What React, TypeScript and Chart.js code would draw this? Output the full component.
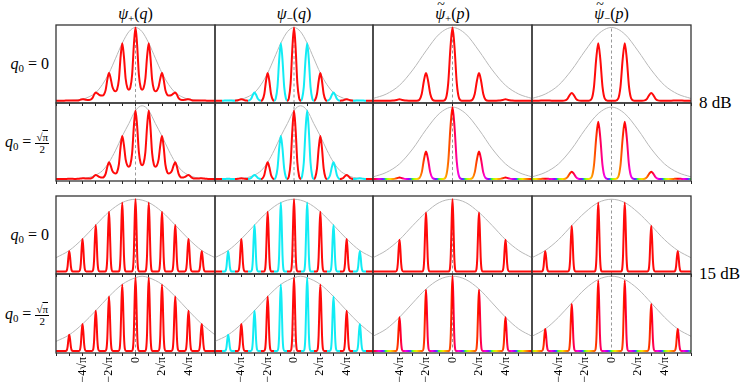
import React, { useEffect, useRef } from 'react';
import { Chart, registerables } from 'chart.js';

Chart.register(...registerables);

// ---------------- axis ----------------
const X_MIN = -6;
const X_MAX = 6;
const TICK_VALUES = [-4, -2, 0, 2, 4];
const TICK_LABELS = ['−4√π', '−2√π', '0', '2√π', '4√π'];
const BLOCK_LABELS = ['8 dB', '15 dB'];

// ---------------- peak positions (units of √π) ----------------
const POS_N = [-5, -4, -3, -2, -1, 0, 1, 2, 3, 4, 5];
const POS_TROUGH_X = [-5.5, -4.5, -3.5, -2.5, -1.5, -0.5, 0.5, 1.5, 2.5, 3.5, 4.5, 5.5];
const MOM_EVEN_N = [-4, -2, 0, 2, 4];
const MOM_ODD_N = [-5, -3, -1, 1, 3, 5];

// ---------------- 8 dB ----------------
const POS_8DB_Q0_PEAKS = [0.003, 0.02, 0.11, 0.377, 0.786, 1, 0.786, 0.377, 0.11, 0.02, 0.003];
const POS_8DB_Q0_TROUGHS = [0, 0.002, 0.01, 0.07, 0.13, 0.15, 0.15, 0.13, 0.07, 0.01, 0.002, 0];
const POS_8DB_HALF_PEAKS = [0.002, 0.01, 0.058, 0.243, 0.626, 1, 1, 0.626, 0.243, 0.058, 0.01];
const POS_8DB_HALF_TROUGHS = [0, 0.001, 0.005, 0.02, 0.08, 0.18, 0.2, 0.18, 0.08, 0.02, 0.005, 0.001];
const SIGN_CHANGE_TROUGHS = [0, 0, 0, 0, 0, 0, 0, 0, 0, 0, 0, 0];
const MOM_8DB_Q0_EVEN = [0.018, 0.377, 1, 0.377, 0.018];
const MOM_8DB_Q0_ODD = [0.003, 0.105, 0.786, 0.786, 0.105, 0.003];
const MOM_8DB_HALF_EVEN = [0.02, 0.4, 1.05, 0.4, 0.02];
const MOM_8DB_HALF_ODD = [0.003, 0.107, 0.835, 0.835, 0.107, 0.003];

// ---------------- 15 dB ----------------
const POS_15DB_Q0_PEAKS = [0.28, 0.45, 0.642, 0.826, 0.954, 1, 0.954, 0.826, 0.642, 0.45, 0.28];
const POS_15DB_HALF_PEAKS = [0.22, 0.367, 0.55, 0.743, 0.908, 1, 1, 0.908, 0.743, 0.55, 0.367];
const MOM_15DB_Q0_EVEN = [0.44, 0.817, 1, 0.817, 0.44];
const MOM_15DB_Q0_ODD = [0.28, 0.633, 0.954, 0.954, 0.633, 0.28];
const MOM_15DB_HALF_EVEN = [0.46, 0.835, 1.02, 0.835, 0.46];
const MOM_15DB_HALF_ODD = [0.3, 0.642, 0.963, 0.963, 0.642, 0.3];

// ---------------- Gaussian envelopes (grey) ----------------
const ENV_X_HALF = [-6, -5.5, -5, -4.5, -4, -3.5, -3, -2.5, -2, -1.5, -1, -0.5, 0, 0.5, 1, 1.5, 2, 2.5, 3, 3.5, 4, 4.5, 5, 5.5, 6];
const ENV_8DB_POS_Q0 = [0, 0.001, 0.003, 0.008, 0.02, 0.053, 0.11, 0.22, 0.377, 0.58, 0.786, 0.942, 1, 0.942, 0.786, 0.58, 0.377, 0.22, 0.11, 0.053, 0.02, 0.008, 0.003, 0.001, 0];
const ENV_8DB_POS_HALF = [0, 0, 0.001, 0.003, 0.01, 0.022, 0.058, 0.12, 0.243, 0.42, 0.626, 0.81, 1, 1.07, 1, 0.81, 0.626, 0.42, 0.243, 0.12, 0.058, 0.022, 0.01, 0.003, 0.001];
const ENV_X_INT = [-6, -5, -4, -3, -2, -1, 0, 1, 2, 3, 4, 5, 6];
const ENV_8DB_MOM_Q0 = [0.03, 0.09, 0.21, 0.42, 0.68, 0.91, 1, 0.91, 0.68, 0.42, 0.21, 0.09, 0.03];
const ENV_8DB_MOM_HALF = [0.03, 0.095, 0.22, 0.44, 0.72, 0.955, 1.05, 0.955, 0.72, 0.44, 0.22, 0.095, 0.03];
const ENV_15DB_POS_Q0 = [0.19, 0.29, 0.45, 0.642, 0.826, 0.954, 1, 0.954, 0.826, 0.642, 0.45, 0.29, 0.19];
const ENV_15DB_POS_HALF_X = [-6, -5, -4, -3, -2, -1, 0, 0.5, 1, 2, 3, 4, 5, 6];
const ENV_15DB_POS_HALF = [0.13, 0.22, 0.367, 0.55, 0.743, 0.908, 1, 1.02, 1, 0.908, 0.743, 0.55, 0.367, 0.22];
const ENV_15DB_MOM_Q0 = [0.19, 0.29, 0.44, 0.635, 0.817, 0.954, 1, 0.954, 0.817, 0.635, 0.44, 0.29, 0.19];
const ENV_15DB_MOM_HALF = [0.2, 0.3, 0.46, 0.655, 0.845, 0.975, 1.02, 0.975, 0.845, 0.655, 0.46, 0.3, 0.2];

// ---------------- layout & style ----------------
const SERIF = "'Liberation Serif', 'Times New Roman', 'DejaVu Serif', serif";
const COL_EDGES = [56, 215, 373, 532, 691];
const ROW_TOPS = [25, 103, 196, 274];
const ROW_HEIGHTS = [78, 78, 78, 79];
const ROW_Y_MIN = [-0.032, -0.03, -0.036, -0.028];
const ROW_Y_MAX = [1.034, 1.11, 1.045, 1.05];
const PAD = 3;
const RED = '#ff0a0a';
const CYAN = '#12ecf4';
const ENV_COLOR = '#b8b8b8';
const DASH_COLOR = '#9a9a9a';
// bell-shaped peak outline: offsets (in peak widths) and fraction of peak height
const PROFILE_OFFSETS = [0.8, 1.7, 2.6, 3.7];
const PROFILE_LEVELS = [0.73, 0.24, 0.035, 0];
const WIDTH_8DB_POS = 0.15;
const WIDTH_8DB_MOM = 0.19;
const WIDTH_15DB = 0.075;
// colour of the phase along one period (2 units), starting at a peak
const PHASE_STOPS: [number, string][] = [
  [0, '#ff0000'], [0.2, '#ff0060'], [0.45, '#ff00e0'], [0.7, '#a000ff'], [0.85, '#2a6bff'],
  [0.95, '#30ff40'], [1.1, '#b0ff00'], [1.3, '#ffe000'], [1.55, '#ff9000'], [1.8, '#ff4000'], [2, '#ff0000'],
];

type Pt = { x: number; y: number };
type Mode = 'red' | 'sign' | 'phase0' | 'phase1';

function overlapPoints(peaks: number[], troughs: number[]): Pt[] {
  const pts: Pt[] = [{ x: X_MIN, y: 0 }];
  POS_N.forEach((n, i) => {
    const h = peaks[i];
    const tl = troughs[i];
    const tr = troughs[i + 1];
    pts.push({ x: POS_TROUGH_X[i], y: tl });
    for (let j = 2; j >= 0; j--) {
      pts.push({ x: n - PROFILE_OFFSETS[j] * WIDTH_8DB_POS, y: tl + PROFILE_LEVELS[j] * (h - tl) });
    }
    pts.push({ x: n, y: h });
    for (let j = 0; j <= 2; j++) {
      pts.push({ x: n + PROFILE_OFFSETS[j] * WIDTH_8DB_POS, y: tr + PROFILE_LEVELS[j] * (h - tr) });
    }
  });
  pts.push({ x: POS_TROUGH_X[POS_TROUGH_X.length - 1], y: troughs[troughs.length - 1] });
  pts.push({ x: X_MAX, y: 0 });
  return pts;
}

function narrowPoints(xs: number[], peaks: number[], width: number): Pt[] {
  const pts: Pt[] = [{ x: X_MIN, y: 0 }];
  xs.forEach((n, i) => {
    const h = peaks[i];
    for (let j = PROFILE_OFFSETS.length - 1; j >= 0; j--) {
      pts.push({ x: n - PROFILE_OFFSETS[j] * width, y: PROFILE_LEVELS[j] * h });
    }
    pts.push({ x: n, y: h });
    for (let j = 0; j < PROFILE_OFFSETS.length; j++) {
      pts.push({ x: n + PROFILE_OFFSETS[j] * width, y: PROFILE_LEVELS[j] * h });
    }
  });
  pts.push({ x: X_MAX, y: 0 });
  return pts.filter((p) => p.x >= X_MIN && p.x <= X_MAX);
}

function zip(xs: number[], ys: number[]): Pt[] {
  return xs.map((x, i) => ({ x, y: ys[i] }));
}

type PanelCfg = { row: number; col: number; curve: Pt[]; env: Pt[]; mode: Mode };

const PANELS: PanelCfg[] = [
  // 8 dB, q0 = 0
  { row: 0, col: 0, curve: overlapPoints(POS_8DB_Q0_PEAKS, POS_8DB_Q0_TROUGHS), env: zip(ENV_X_HALF, ENV_8DB_POS_Q0), mode: 'red' },
  { row: 0, col: 1, curve: overlapPoints(POS_8DB_Q0_PEAKS, SIGN_CHANGE_TROUGHS), env: zip(ENV_X_HALF, ENV_8DB_POS_Q0), mode: 'sign' },
  { row: 0, col: 2, curve: narrowPoints(MOM_EVEN_N, MOM_8DB_Q0_EVEN, WIDTH_8DB_MOM), env: zip(ENV_X_INT, ENV_8DB_MOM_Q0), mode: 'red' },
  { row: 0, col: 3, curve: narrowPoints(MOM_ODD_N, MOM_8DB_Q0_ODD, WIDTH_8DB_MOM), env: zip(ENV_X_INT, ENV_8DB_MOM_Q0), mode: 'red' },
  // 8 dB, q0 = sqrt(pi)/2
  { row: 1, col: 0, curve: overlapPoints(POS_8DB_HALF_PEAKS, POS_8DB_HALF_TROUGHS), env: zip(ENV_X_HALF, ENV_8DB_POS_HALF), mode: 'red' },
  { row: 1, col: 1, curve: overlapPoints(POS_8DB_HALF_PEAKS, SIGN_CHANGE_TROUGHS), env: zip(ENV_X_HALF, ENV_8DB_POS_HALF), mode: 'sign' },
  { row: 1, col: 2, curve: narrowPoints(MOM_EVEN_N, MOM_8DB_HALF_EVEN, WIDTH_8DB_MOM), env: zip(ENV_X_INT, ENV_8DB_MOM_HALF), mode: 'phase0' },
  { row: 1, col: 3, curve: narrowPoints(MOM_ODD_N, MOM_8DB_HALF_ODD, WIDTH_8DB_MOM), env: zip(ENV_X_INT, ENV_8DB_MOM_HALF), mode: 'phase1' },
  // 15 dB, q0 = 0
  { row: 2, col: 0, curve: narrowPoints(POS_N, POS_15DB_Q0_PEAKS, WIDTH_15DB), env: zip(ENV_X_INT, ENV_15DB_POS_Q0), mode: 'red' },
  { row: 2, col: 1, curve: narrowPoints(POS_N, POS_15DB_Q0_PEAKS, WIDTH_15DB), env: zip(ENV_X_INT, ENV_15DB_POS_Q0), mode: 'sign' },
  { row: 2, col: 2, curve: narrowPoints(MOM_EVEN_N, MOM_15DB_Q0_EVEN, WIDTH_15DB), env: zip(ENV_X_INT, ENV_15DB_MOM_Q0), mode: 'red' },
  { row: 2, col: 3, curve: narrowPoints(MOM_ODD_N, MOM_15DB_Q0_ODD, WIDTH_15DB), env: zip(ENV_X_INT, ENV_15DB_MOM_Q0), mode: 'red' },
  // 15 dB, q0 = sqrt(pi)/2
  { row: 3, col: 0, curve: narrowPoints(POS_N, POS_15DB_HALF_PEAKS, WIDTH_15DB), env: zip(ENV_15DB_POS_HALF_X, ENV_15DB_POS_HALF), mode: 'red' },
  { row: 3, col: 1, curve: narrowPoints(POS_N, POS_15DB_HALF_PEAKS, WIDTH_15DB), env: zip(ENV_15DB_POS_HALF_X, ENV_15DB_POS_HALF), mode: 'sign' },
  { row: 3, col: 2, curve: narrowPoints(MOM_EVEN_N, MOM_15DB_HALF_EVEN, WIDTH_15DB), env: zip(ENV_X_INT, ENV_15DB_MOM_HALF), mode: 'phase0' },
  { row: 3, col: 3, curve: narrowPoints(MOM_ODD_N, MOM_15DB_HALF_ODD, WIDTH_15DB), env: zip(ENV_X_INT, ENV_15DB_MOM_HALF), mode: 'phase1' },
];

function makeStroke(chart: any, mode: Mode): any {
  if (mode === 'red') return RED;
  const xs = chart.scales && chart.scales.x;
  if (!chart.chartArea || !xs) return RED;
  const x0 = xs.getPixelForValue(X_MIN);
  const x1 = xs.getPixelForValue(X_MAX);
  const g = chart.ctx.createLinearGradient(x0, 0, x1, 0);
  const off = (x: number) => (x - X_MIN) / (X_MAX - X_MIN);
  if (mode === 'sign') {
    for (let k = X_MIN; k <= X_MAX; k++) {
      const a = Math.max(X_MIN, k - 0.5);
      const b = Math.min(X_MAX, k + 0.5);
      const c = k % 2 === 0 ? RED : CYAN;
      g.addColorStop(off(a), c);
      g.addColorStop(off(b), c);
    }
    return g;
  }
  const shift = mode === 'phase1' ? 1 : 0;
  for (let p = X_MIN - 2 + shift; p <= X_MAX; p += 2) {
    PHASE_STOPS.forEach(([t, c]) => {
      const x = p + t;
      if (x >= X_MIN && x <= X_MAX) g.addColorStop(off(x), c);
    });
  }
  return g;
}

const framePlugin = {
  id: 'panelFrame',
  afterDraw(chart: any) {
    const { ctx, chartArea: a } = chart;
    ctx.save();
    ctx.strokeStyle = '#353535';
    ctx.lineWidth = 1.3;
    ctx.strokeRect(a.left, a.top, a.right - a.left, a.bottom - a.top);
    ctx.restore();
  },
};

function Panel({ cfg }: { cfg: PanelCfg }) {
  const ref = useRef<HTMLCanvasElement>(null);
  const showLabels = cfg.row === 3;
  const axisH = showLabels ? 32 : 4;
  const w = COL_EDGES[cfg.col + 1] - COL_EDGES[cfg.col] + 2 * PAD;
  const h = ROW_HEIGHTS[cfg.row] + PAD + axisH;
  const left = COL_EDGES[cfg.col] - PAD;
  const top = ROW_TOPS[cfg.row] - PAD;

  useEffect(() => {
    const yMin = ROW_Y_MIN[cfg.row];
    const yMax = ROW_Y_MAX[cfg.row];
    const envTop = Math.max(...cfg.env.map((p) => p.y));
    const chart = new Chart(ref.current as HTMLCanvasElement, {
      type: 'line',
      data: {
        datasets: [
          {
            data: cfg.curve,
            borderColor: (ctx: any) => makeStroke(ctx.chart, cfg.mode),
            borderWidth: 2,
            pointRadius: 0,
            cubicInterpolationMode: 'monotone',
            fill: false,
            borderJoinStyle: 'round',
            borderCapStyle: 'round',
          } as any,
          {
            data: cfg.env,
            borderColor: ENV_COLOR,
            borderWidth: 1,
            pointRadius: 0,
            cubicInterpolationMode: 'monotone',
            fill: false,
          } as any,
          {
            data: [{ x: 0, y: yMin }, { x: 0, y: envTop }],
            borderColor: DASH_COLOR,
            borderWidth: 1,
            borderDash: [3, 2.5],
            pointRadius: 0,
            fill: false,
          } as any,
        ],
      },
      options: {
        responsive: false,
        maintainAspectRatio: false,
        animation: false,
        devicePixelRatio: 1,
        events: [],
        layout: { padding: { left: PAD, right: PAD, top: PAD, bottom: 0 } },
        plugins: { legend: { display: false }, tooltip: { enabled: false } },
        scales: {
          x: {
            type: 'linear',
            min: X_MIN,
            max: X_MAX,
            afterFit: (s: any) => {
              s.height = axisH;
              s.paddingLeft = 0;
              s.paddingRight = 0;
            },
            ticks: {
              display: showLabels,
              stepSize: 1,
              autoSkip: false,
              minRotation: 90,
              maxRotation: 90,
              padding: 1,
              color: '#000',
              font: { family: SERIF, size: 12 },
              callback: (v: any) => {
                const i = TICK_VALUES.indexOf(Number(v));
                return i >= 0 ? TICK_LABELS[i] : '';
              },
            },
            grid: { drawOnChartArea: false, drawTicks: true, tickLength: 3, color: '#222', lineWidth: 1 },
            border: { display: false },
          },
          y: { display: false, min: yMin, max: yMax },
        },
      } as any,
      plugins: [framePlugin],
    });
    return () => chart.destroy();
  }, []);

  return (
    <canvas
      ref={ref}
      width={w}
      height={h}
      style={{ position: 'absolute', left, top, width: w, height: h }}
    />
  );
}

const subStyle: React.CSSProperties = { fontSize: '0.68em', verticalAlign: '-0.3em', lineHeight: 0 };

function PsiTitle({ tilde, sign, arg }: { tilde: boolean; sign: string; arg: string }) {
  return (
    <span>
      <span style={{ position: 'relative', display: 'inline-block' }}>
        <i>ψ</i>
        {tilde && (
          <span style={{ position: 'absolute', left: 2, top: -9, fontSize: 14 }}>~</span>
        )}
      </span>
      <span style={subStyle}>{sign}</span>(<i>{arg}</i>)
    </span>
  );
}

function Q0Label({ half }: { half: boolean }) {
  return (
    <span>
      <i>q</i>
      <span style={subStyle}>0</span> ={' '}
      {half ? (
        <span
          style={{
            display: 'inline-flex',
            flexDirection: 'column',
            alignItems: 'center',
            verticalAlign: 'middle',
            fontSize: 11,
            lineHeight: '11px',
          }}
        >
          <span style={{ borderBottom: '1px solid #000', padding: '0 1px' }}>
            √<span style={{ textDecoration: 'overline' }}>π</span>
          </span>
          <span>2</span>
        </span>
      ) : (
        '0'
      )}
    </span>
  );
}

const TITLES = [
  { tilde: false, sign: '+', arg: 'q' },
  { tilde: false, sign: '−', arg: 'q' },
  { tilde: true, sign: '+', arg: 'p' },
  { tilde: true, sign: '−', arg: 'p' },
];

export default function App() {
  const textBase: React.CSSProperties = {
    position: 'absolute',
    fontFamily: SERIF,
    color: '#000',
    whiteSpace: 'nowrap',
    lineHeight: '20px',
    fontSize: 16,
  };
  return (
    <div
      style={{
        position: 'fixed',
        left: 0,
        top: 0,
        width: 747,
        height: 385,
        background: '#fff',
        overflow: 'hidden',
      }}
    >
      {TITLES.map((t, c) => {
        const cx = (COL_EDGES[c] + COL_EDGES[c + 1]) / 2;
        return (
          <div key={'t' + c} style={{ ...textBase, left: cx - 50, width: 100, textAlign: 'center', top: 4 }}>
            <PsiTitle {...t} />
          </div>
        );
      })}
      {ROW_TOPS.map((rt, r) => {
        const cy = rt + ROW_HEIGHTS[r] / 2;
        return (
          <div key={'r' + r} style={{ ...textBase, left: 0, width: 49, textAlign: 'right', top: cy - 10 }}>
            <Q0Label half={r % 2 === 1} />
          </div>
        );
      })}
      {BLOCK_LABELS.map((label, b) => {
        const cy = ROW_TOPS[2 * b + 1];
        return (
          <div key={'b' + b} style={{ ...textBase, left: 699, top: cy - 11, fontSize: 17, lineHeight: '22px' }}>
            {label}
          </div>
        );
      })}
      {PANELS.map((p, i) => (
        <Panel key={i} cfg={p} />
      ))}
    </div>
  );
}
